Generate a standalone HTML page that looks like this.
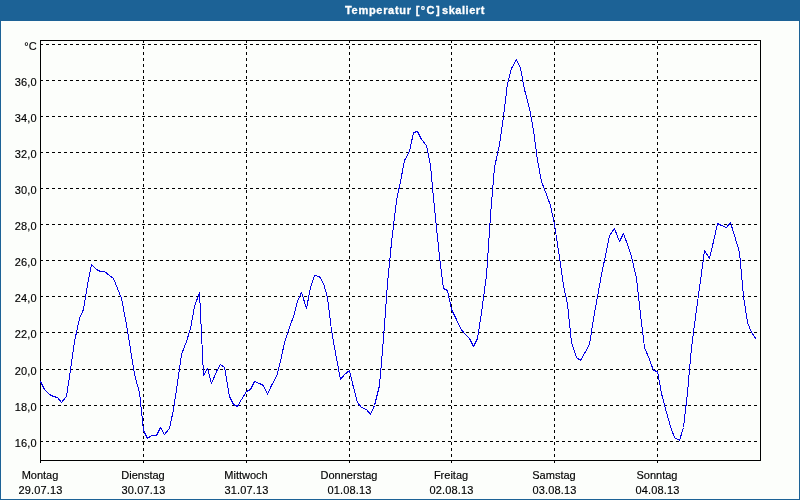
<!DOCTYPE html>
<html><head><meta charset="utf-8"><title>Temperatur [°C] skaliert</title>
<style>
html,body{margin:0;padding:0;}
body{width:800px;height:500px;overflow:hidden;background:#1c6296;position:relative;font-family:"Liberation Sans",sans-serif;}
#panel{position:absolute;left:1px;top:21px;width:798px;height:478px;background:#fcfefb;}
svg{position:absolute;left:0;top:0;}
text{font-family:"Liberation Sans",sans-serif;font-size:11px;fill:#000;stroke:#000;stroke-width:0.15px;}
</style></head><body>
<div id="panel"></div>
<svg width="800" height="500" viewBox="0 0 800 500">
<g shape-rendering="crispEdges" stroke="#000" stroke-width="1" fill="none">
<line x1="40" y1="44.5" x2="760" y2="44.5" stroke-dasharray="3 3"/>
<line x1="40" y1="80.5" x2="760" y2="80.5" stroke-dasharray="3 3"/>
<line x1="40" y1="116.5" x2="760" y2="116.5" stroke-dasharray="3 3"/>
<line x1="40" y1="152.5" x2="760" y2="152.5" stroke-dasharray="3 3"/>
<line x1="40" y1="188.5" x2="760" y2="188.5" stroke-dasharray="3 3"/>
<line x1="40" y1="224.5" x2="760" y2="224.5" stroke-dasharray="3 3"/>
<line x1="40" y1="260.5" x2="760" y2="260.5" stroke-dasharray="3 3"/>
<line x1="40" y1="296.5" x2="760" y2="296.5" stroke-dasharray="3 3"/>
<line x1="40" y1="332.5" x2="760" y2="332.5" stroke-dasharray="3 3"/>
<line x1="40" y1="369.5" x2="760" y2="369.5" stroke-dasharray="3 3"/>
<line x1="40" y1="405.5" x2="760" y2="405.5" stroke-dasharray="3 3"/>
<line x1="40" y1="441.5" x2="760" y2="441.5" stroke-dasharray="3 3"/>
<line x1="143.5" y1="40" x2="143.5" y2="460" stroke-dasharray="3 3"/>
<line x1="246.5" y1="40" x2="246.5" y2="460" stroke-dasharray="3 3"/>
<line x1="349.5" y1="40" x2="349.5" y2="460" stroke-dasharray="3 3"/>
<line x1="451.5" y1="40" x2="451.5" y2="460" stroke-dasharray="3 3"/>
<line x1="554.5" y1="40" x2="554.5" y2="460" stroke-dasharray="3 3"/>
<line x1="657.5" y1="40" x2="657.5" y2="460" stroke-dasharray="3 3"/>
<rect x="40.5" y="40.5" width="720" height="420"/>
<line x1="40.5" y1="461" x2="40.5" y2="463"/>
<line x1="143.5" y1="461" x2="143.5" y2="463"/>
<line x1="246.5" y1="461" x2="246.5" y2="463"/>
<line x1="349.5" y1="461" x2="349.5" y2="463"/>
<line x1="451.5" y1="461" x2="451.5" y2="463"/>
<line x1="554.5" y1="461" x2="554.5" y2="463"/>
<line x1="657.5" y1="461" x2="657.5" y2="463"/>
</g>
<polyline shape-rendering="crispEdges" stroke-linejoin="bevel" fill="none" stroke="#0400e6" stroke-width="1" points="40.5,381.5 44.5,389.5 49.5,394.5 53.5,396.5 57.5,397.5 61.5,402.5 66.5,396.5 70.5,369.5 74.5,341.5 79.5,318.5 83.5,309.5 87.5,284.5 91.5,264.5 96.5,269.5 100.5,271.5 104.5,271.5 109.5,275.5 113.5,278.5 117.5,288.5 121.5,298.5 126.5,324.5 130.5,349.5 134.5,374.5 139.5,392.5 143.5,430.5 147.5,438.5 151.5,435.5 156.5,435.5 160.5,427.5 164.5,434.5 169.5,428.5 173.5,409.5 177.5,382.5 181.5,354.5 186.5,341.5 190.5,328.5 194.5,306.5 199.5,292.5 203.5,375.5 207.5,368.5 211.5,383.5 216.5,371.5 220.5,364.5 224.5,367.5 229.5,396.5 233.5,404.5 237.5,406.5 241.5,399.5 246.5,391.5 250.5,389.5 254.5,381.5 259.5,383.5 263.5,385.5 267.5,394.5 271.5,385.5 276.5,376.5 280.5,361.5 284.5,342.5 289.5,327.5 293.5,316.5 297.5,301.5 301.5,292.5 306.5,308.5 310.5,287.5 314.5,275.5 319.5,276.5 323.5,283.5 327.5,297.5 331.5,330.5 336.5,358.5 340.5,379.5 344.5,374.5 349.5,370.5 353.5,387.5 357.5,402.5 361.5,407.5 366.5,409.5 370.5,414.5 374.5,405.5 379.5,385.5 383.5,338.5 387.5,283.5 391.5,242.5 396.5,200.5 400.5,181.5 404.5,160.5 409.5,151.5 413.5,132.5 417.5,131.5 421.5,139.5 426.5,145.5 430.5,165.5 434.5,208.5 439.5,256.5 443.5,288.5 447.5,290.5 451.5,309.5 456.5,319.5 460.5,328.5 464.5,333.5 469.5,338.5 473.5,346.5 477.5,338.5 481.5,312.5 486.5,275.5 490.5,215.5 494.5,167.5 499.5,144.5 503.5,116.5 507.5,83.5 511.5,68.5 516.5,59.5 520.5,68.5 524.5,89.5 529.5,108.5 533.5,130.5 537.5,160.5 541.5,181.5 546.5,194.5 550.5,205.5 554.5,224.5 559.5,257.5 563.5,285.5 567.5,304.5 571.5,342.5 576.5,357.5 580.5,360.5 584.5,353.5 589.5,344.5 593.5,318.5 597.5,296.5 601.5,274.5 606.5,250.5 609.5,235.5 614.5,228.5 619.5,241.5 623.5,233.5 627.5,244.5 631.5,256.5 636.5,278.5 640.5,314.5 644.5,347.5 649.5,359.5 653.5,370.5 657.5,371.5 661.5,393.5 666.5,412.5 670.5,426.5 674.5,437.5 679.5,440.5 683.5,427.5 687.5,392.5 691.5,347.5 696.5,309.5 700.5,280.5 704.5,250.5 709.5,258.5 713.5,241.5 717.5,223.5 721.5,225.5 726.5,227.5 730.5,222.5 734.5,235.5 739.5,252.5 743.5,296.5 747.5,322.5 751.5,332.5 756.5,339.5"/>
<text y="14" fill="#fff" style="fill:#fff;font-weight:bold;stroke:#fff;stroke-width:0.3px"><tspan x="345" letter-spacing="0.7">Temperatur</tspan> <tspan x="415.7" letter-spacing="1.4">[°C]</tspan> <tspan x="442" letter-spacing="0.54">skaliert</tspan></text>
<g text-anchor="end">
<text x="36.8" y="50" letter-spacing="0.15">°C</text>
<text x="36.8" y="86" letter-spacing="0.15">36,0</text>
<text x="36.8" y="122" letter-spacing="0.15">34,0</text>
<text x="36.8" y="158" letter-spacing="0.15">32,0</text>
<text x="36.8" y="194" letter-spacing="0.15">30,0</text>
<text x="36.8" y="230" letter-spacing="0.15">28,0</text>
<text x="36.8" y="266" letter-spacing="0.15">26,0</text>
<text x="36.8" y="302" letter-spacing="0.15">24,0</text>
<text x="36.8" y="338" letter-spacing="0.15">22,0</text>
<text x="36.8" y="375" letter-spacing="0.15">20,0</text>
<text x="36.8" y="411" letter-spacing="0.15">18,0</text>
<text x="36.8" y="447" letter-spacing="0.15">16,0</text>
</g>
<g text-anchor="middle">
<text x="40" y="479">Montag</text>
<text x="40.5" y="494" letter-spacing="0.15">29.07.13</text>
<text x="143" y="479">Dienstag</text>
<text x="143.5" y="494" letter-spacing="0.15">30.07.13</text>
<text x="246" y="479">Mittwoch</text>
<text x="246.5" y="494" letter-spacing="0.15">31.07.13</text>
<text x="349" y="479">Donnerstag</text>
<text x="349.5" y="494" letter-spacing="0.15">01.08.13</text>
<text x="451" y="479">Freitag</text>
<text x="451.5" y="494" letter-spacing="0.15">02.08.13</text>
<text x="554" y="479">Samstag</text>
<text x="554.5" y="494" letter-spacing="0.15">03.08.13</text>
<text x="657" y="479">Sonntag</text>
<text x="657.5" y="494" letter-spacing="0.15">04.08.13</text>
</g>
</svg>
</body></html>
